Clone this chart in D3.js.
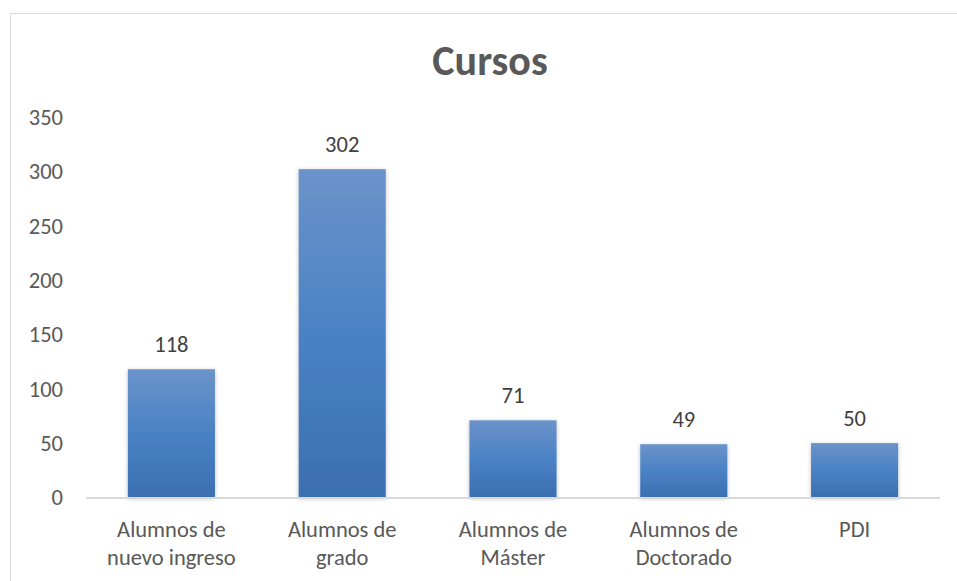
<!DOCTYPE html>
<html lang="es">
<head>
<meta charset="UTF-8">
<title>Cursos</title>
<script src="https://cdn.jsdelivr.net/npm/d3@7"></script>
<style>
  html, body { margin: 0; padding: 0; background: #fff; }
  svg { display: block; font-family: Carlito, Lato, "Noto Sans", sans-serif; }
</style>
</head>
<body>
<svg id="chart"></svg>
<script>
// data
var categories = [["Alumnos de", "nuevo ingreso"], ["Alumnos de", "grado"], ["Alumnos de", "Máster"], ["Alumnos de", "Doctorado"], ["PDI"]];
var values = [118, 302, 71, 49, 50];
var yTicks = [0, 50, 100, 150, 200, 250, 300, 350];

var width = 957, height = 581;
var fs = 22.5;
var svg = d3.select("#chart").attr("width", width).attr("height", height);

var defs = svg.append("defs");
var grad = defs.append("linearGradient").attr("id", "barGrad")
  .attr("x1", 0).attr("y1", 0).attr("x2", 0).attr("y2", 1);
grad.append("stop").attr("offset", "0%").attr("stop-color", "#6b93c9");
grad.append("stop").attr("offset", "50%").attr("stop-color", "#4a82c5");
grad.append("stop").attr("offset", "100%").attr("stop-color", "#3b6fb1");

var shadow = defs.append("filter").attr("id", "shadow")
  .attr("x", "-20%").attr("y", "-20%").attr("width", "140%").attr("height", "140%");
shadow.append("feDropShadow").attr("dx", 0).attr("dy", 1).attr("stdDeviation", 2)
  .attr("flood-color", "#000").attr("flood-opacity", 0.25);

// chart frame
svg.append("rect")
  .attr("x", 10.5).attr("y", 13.5).attr("width", 970).attr("height", 600)
  .attr("fill", "none").attr("stroke", "#d9d9d9").attr("stroke-width", 1);

// title
svg.append("text")
  .attr("x", 490).attr("y", 75)
  .attr("text-anchor", "middle")
  .attr("font-size", 42).attr("font-weight", "bold")
  .attr("fill", "#595959")
  .text("Cursos");

var x = d3.scaleBand()
  .domain(d3.range(values.length))
  .range([86, 940])
  .paddingInner(0.49)
  .paddingOuter(0.245);

var y = d3.scaleLinear().domain([0, 350]).range([497.5, 117]);

// y tick labels
svg.append("g").selectAll("text")
  .data(yTicks)
  .enter().append("text")
  .attr("x", 63)
  .attr("y", function (d) { return y(d); })
  .attr("dy", "0.35em")
  .attr("text-anchor", "end")
  .attr("font-size", fs)
  .attr("fill", "#595959")
  .text(function (d) { return d; });

// bars
svg.append("g").selectAll("rect")
  .data(values)
  .enter().append("rect")
  .attr("x", function (d, i) { return x(i); })
  .attr("y", function (d) { return y(d); })
  .attr("width", x.bandwidth())
  .attr("height", function (d) { return y(0) - y(d); })
  .attr("fill", "url(#barGrad)")
  .attr("filter", "url(#shadow)");

// baseline
svg.append("line")
  .attr("x1", 86).attr("x2", 940)
  .attr("y1", y(0) + 0.5).attr("y2", y(0) + 0.5)
  .attr("stroke", "#d9d9d9").attr("stroke-width", 2);

// value labels
svg.append("g").selectAll("text")
  .data(values)
  .enter().append("text")
  .attr("x", function (d, i) { return x(i) + x.bandwidth() / 2; })
  .attr("y", function (d) { return y(d) - 17; })
  .attr("text-anchor", "middle")
  .attr("font-size", fs)
  .attr("fill", "#404040")
  .text(function (d) { return d; });

// category labels
var cat = svg.append("g").selectAll("text")
  .data(categories)
  .enter().append("text")
  .attr("x", function (d, i) { return x(i) + x.bandwidth() / 2; })
  .attr("y", 537)
  .attr("text-anchor", "middle")
  .attr("font-size", fs)
  .attr("fill", "#595959");
cat.selectAll("tspan")
  .data(function (d) { return d; })
  .enter().append("tspan")
  .attr("x", function () { return d3.select(this.parentNode).attr("x"); })
  .attr("dy", function (d, i) { return i === 0 ? 0 : 28; })
  .text(function (d) { return d; });
</script>
</body>
</html>
